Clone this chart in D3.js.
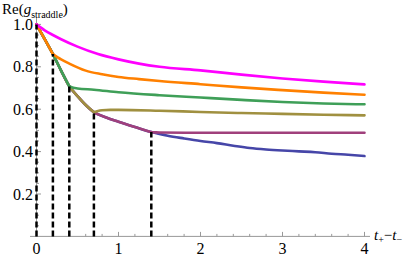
<!DOCTYPE html>
<html>
<head>
<meta charset="utf-8">
<script src="https://cdn.jsdelivr.net/npm/d3@7"></script>
<style>
  body { margin: 0; background: #fff; }
  svg { display: block; }
  text { font-family: "Liberation Serif", "Times New Roman", serif; }
</style>
</head>
<body>
<svg id="chart"></svg>
<script>
var svgWidth = 416;
var svgHeight = 257;
var serif = "Liberation Serif, Times New Roman, serif";

// switch times (dashed markers)
var switchTimes = [0, 0.2, 0.4, 0.7, 1.4];

// base curve (no switch) -- blue
var baseT    = [0, 0.1, 0.2, 0.3, 0.4, 0.5, 0.6, 0.7, 0.85, 1.0, 1.2, 1.4, 1.6, 1.8, 2.0, 2.2, 2.4, 2.6, 2.8, 3.0, 3.2, 3.4, 3.6, 3.8, 4.0];
var baseVals = [1.0, 0.93, 0.86, 0.782, 0.708, 0.662, 0.62, 0.586, 0.561, 0.541, 0.516, 0.492, 0.475, 0.462, 0.45, 0.44, 0.428, 0.417, 0.41, 0.405, 0.401, 0.397, 0.39, 0.385, 0.379];

// tails after each switch
var magentaT    = [0, 0.1, 0.2, 0.3, 0.5, 0.75, 1.0, 1.25, 1.5, 2.0, 2.5, 3.0, 3.5, 4.0];
var magentaVals = [1.0, 0.972, 0.95, 0.93, 0.895, 0.86, 0.835, 0.815, 0.80, 0.783, 0.763, 0.745, 0.73, 0.717];

var orangeT    = [0.2, 0.3, 0.4, 0.6, 0.8, 1.0, 1.25, 1.5, 2.0, 2.5, 3.0, 3.5, 4.0];
var orangeVals = [0.86, 0.835, 0.815, 0.782, 0.765, 0.752, 0.742, 0.733, 0.718, 0.703, 0.69, 0.678, 0.668];

var greenT    = [0.4, 0.45, 0.5, 0.7, 1.0, 1.5, 2.0, 2.5, 3.0, 3.5, 4.0];
var greenVals = [0.708, 0.701, 0.698, 0.692, 0.68, 0.666, 0.655, 0.644, 0.634, 0.627, 0.623];

var oliveT    = [0.7, 0.75, 0.8, 0.9, 1.0, 1.5, 2.0, 2.5, 3.0, 3.5, 4.0];
var oliveVals = [0.586, 0.592, 0.595, 0.597, 0.597, 0.593, 0.587, 0.582, 0.578, 0.574, 0.571];

var purpleT    = [1.4, 1.5, 2.0, 3.0, 4.0];
var purpleVals = [0.492, 0.490, 0.489, 0.489, 0.489];

var xTicks = [0, 1, 2, 3, 4];
var yTicks = [0.2, 0.4, 0.6, 0.8, 1.0];

var x = d3.scaleLinear().domain([0, 4]).range([36.5, 364.5]);
var y = d3.scaleLinear().domain([0, 1]).range([236.4, 24.4]);

var svg = d3.select("#chart")
  .attr("width", svgWidth)
  .attr("height", svgHeight);

var axisColor = "#999";

// x axis
svg.append("line")
  .attr("x1", 30).attr("x2", 370)
  .attr("y1", y(0)).attr("y2", y(0))
  .attr("stroke", axisColor).attr("stroke-width", 1);

d3.range(0, 4.01, 0.2).forEach(function(t) {
  var major = Math.abs(t - Math.round(t)) < 1e-6;
  svg.append("line")
    .attr("x1", x(t)).attr("x2", x(t))
    .attr("y1", y(0)).attr("y2", y(0) - (major ? 4.5 : 2.5))
    .attr("stroke", axisColor).attr("stroke-width", 1);
});

svg.selectAll(".xlab")
  .data(xTicks)
  .enter()
  .append("text")
    .attr("x", function(d) { return x(d); })
    .attr("y", 254)
    .attr("text-anchor", "middle")
    .attr("font-family", serif)
    .attr("font-size", 16)
    .text(function(d) { return d; });

// y axis
svg.append("line")
  .attr("x1", x(0)).attr("x2", x(0))
  .attr("y1", y(0)).attr("y2", y(1.03))
  .attr("stroke", axisColor).attr("stroke-width", 1);

d3.range(0.05, 1.001, 0.05).forEach(function(v) {
  var major = Math.abs(v * 5 - Math.round(v * 5)) < 1e-6;
  svg.append("line")
    .attr("x1", x(0)).attr("x2", x(0) + (major ? 4.5 : 2.5))
    .attr("y1", y(v)).attr("y2", y(v))
    .attr("stroke", axisColor).attr("stroke-width", 1);
});

svg.selectAll(".ylab")
  .data(yTicks)
  .enter()
  .append("text")
    .attr("x", 33)
    .attr("y", function(d) { return y(d) + 5.5; })
    .attr("text-anchor", "end")
    .attr("font-family", serif)
    .attr("font-size", 16)
    .text(function(d) { return d.toFixed(1); });

// axis labels
var ylab = svg.append("text").attr("x", 2).attr("y", 14)
  .attr("font-family", serif).attr("font-size", 15);
ylab.append("tspan").text("Re(");
ylab.append("tspan").attr("font-style", "italic").text("g");
ylab.append("tspan").attr("font-size", 10).attr("dy", 4).text("straddle");
ylab.append("tspan").attr("dy", -4).text(")");

var xlab = svg.append("text").attr("x", 374).attr("y", 240)
  .attr("font-family", serif).attr("font-size", 15);
xlab.append("tspan").attr("font-style", "italic").text("t");
xlab.append("tspan").attr("font-size", 10).attr("dy", 3).text("+");
xlab.append("tspan").attr("dy", -3).text("\u2212");
xlab.append("tspan").attr("font-style", "italic").text("t");
xlab.append("tspan").attr("font-size", 10).attr("dy", 3).text("\u2212");

// curves
function zip(ts, vs) { return ts.map(function(t, i) { return [t, vs[i]]; }); }
var basePts = zip(baseT, baseVals);

var line = d3.line()
  .x(function(d) { return x(d[0]); })
  .y(function(d) { return y(d[1]); })
  .curve(d3.curveMonotoneX);

function pathFor(sw, tail) {
  var head = basePts.filter(function(p) { return p[0] <= sw + 1e-9; });
  var d = head.length > 1 ? line(head) : "";
  return d + line(tail);
}

var series = [
  { color: "#4646a8", d: line(basePts) },
  { color: "#a0407c", d: pathFor(1.4, zip(purpleT, purpleVals)) },
  { color: "#a09040", d: pathFor(0.7, zip(oliveT, oliveVals)) },
  { color: "#3f9f58", d: pathFor(0.4, zip(greenT, greenVals)) },
  { color: "#ff8000", d: pathFor(0.2, zip(orangeT, orangeVals)) },
  { color: "#ff00ff", d: line(zip(magentaT, magentaVals)) }
];

svg.append("g")
  .selectAll("path")
  .data(series)
  .enter()
  .append("path")
    .attr("d", function(s) { return s.d; })
    .attr("fill", "none")
    .attr("stroke", function(s) { return s.color; })
    .attr("stroke-width", 2.6)
    .attr("stroke-linecap", "round")
    .attr("stroke-linejoin", "round");

// dashed markers at switch times
var baseAt = function(t) {
  var i = baseT.indexOf(t);
  return baseVals[i];
};
svg.append("g")
  .selectAll("line")
  .data(switchTimes)
  .enter()
  .append("line")
    .attr("x1", function(d) { return x(d); })
    .attr("x2", function(d) { return x(d); })
    .attr("y1", y(0))
    .attr("y2", function(d) { return y(baseAt(d)); })
    .attr("stroke", "#000")
    .attr("stroke-width", 2.5)
    .attr("stroke-dasharray", "6,3");
</script>
</body>
</html>
